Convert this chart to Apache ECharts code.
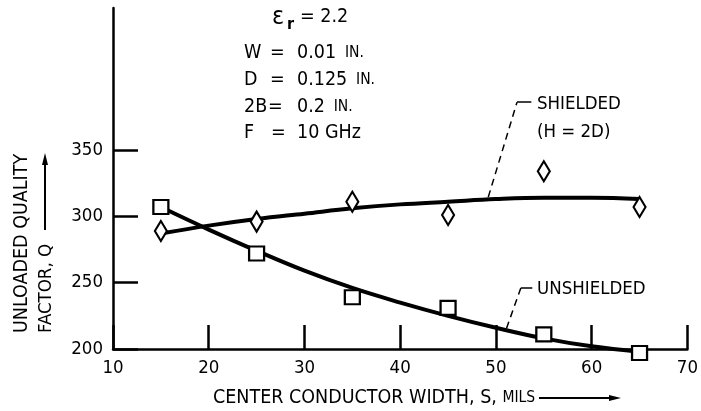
<!DOCTYPE html>
<html><head><meta charset="utf-8">
<script src="https://cdn.jsdelivr.net/npm/echarts@6/dist/echarts.min.js"></script>
<style>html,body{margin:0;padding:0;background:#fff}#c{width:701px;height:411px}</style>
</head><body><div id="c"></div>
<script>
// ---- data ----
const xTicks = [10, 20, 30, 40, 50, 60, 70];
const yTicks = [200, 250, 300, 350];
const markerX = [15, 25, 35, 45, 55, 65];
const unshieldedQ = [307, 272, 239, 231, 211, 197];
const shieldedQ = [289, 296, 311, 301, 334, 307];
const curveX = [15, 20, 25, 30, 35, 40, 45, 50, 55, 60, 65];
const unshieldedFit = [307, 290, 274, 259, 246, 235, 225, 216, 208, 202, 198];
const shieldedFit = [287, 293, 298, 302, 306, 309, 311, 313, 314, 314, 313];
const shieldedLeader = [[49.2, 314.5], [52.2, 386], [53.7, 386]];
const unshieldedLeader = [[51.1, 215.5], [52.6, 246], [53.8, 246]];

const FONT = '"DejaVu Sans Condensed","DejaVu Sans",sans-serif';
const INK = '#000';

const zip = (xs, ys) => xs.map((x, i) => [x, ys[i]]);
function leader(pts) {
  return [
    [{ coord: pts[0] }, { coord: pts[1], lineStyle: { type: [7, 5] } }],
    [{ coord: pts[1], lineStyle: { type: 'solid' } }, { coord: pts[2] }]
  ];
}

const chart = echarts.init(document.getElementById('c'), null, { renderer: 'canvas' });

function txt(x, y, text, size, extra, weight) {
  return Object.assign({
    type: 'text', x: x, y: y, silent: true,
    style: { text: text, fill: INK, font: (weight || 'normal') + ' ' + size + 'px ' + FONT, textAlign: 'left', textVerticalAlign: 'middle' }
  }, extra || {});
}
function paramLine(y, key, eqX, val, unit) {
  const els = [txt(244, y, key, 19.5), txt(eqX, y, '=', 19.5)];
  els.push({
    type: 'text', x: 297, y: y, silent: true,
    style: {
      text: '{v|' + val + '}' + (unit ? '{u|  ' + unit + '}' : ''),
      textVerticalAlign: 'middle',
      rich: { v: { fontSize: 19.5, fontFamily: FONT, fill: INK }, u: { fontSize: 15.5, fontFamily: FONT, fill: INK } }
    }
  });
  return els;
}

const graphic = [].concat(
  [txt(272, 17, 'ε', 25), txt(287, 25, 'r', 16, null, 'bold'), txt(300, 17, '= 2.2', 19.5)],
  paramLine(53, 'W', 270, '0.01', 'IN.'),
  paramLine(80, 'D', 270, '0.125', 'IN.'),
  paramLine(107, '2B', 268, '0.2', 'IN.'),
  paramLine(133, 'F', 271, '10 GHz', ''),
  [
    txt(537, 104, 'SHIELDED', 18.5),
    txt(537, 132, '(H = 2D)', 18.5),
    txt(537, 289, 'UNSHIELDED', 18.5),
    // y axis title
    txt(22, 333, 'UNLOADED QUALITY', 19.5, { rotation: Math.PI / 2 }),
    txt(46, 333, 'FACTOR, Q', 18.5, { rotation: Math.PI / 2 }),
    { type: 'line', silent: true, shape: { x1: 45, y1: 230, x2: 45, y2: 162 }, style: { stroke: INK, lineWidth: 2 } },
    { type: 'polygon', silent: true, shape: { points: [[45, 153], [42, 165], [48, 165]] }, style: { fill: INK } },
    // x axis title
    {
      type: 'text', x: 213, y: 398, silent: true,
      style: {
        text: '{a|CENTER CONDUCTOR WIDTH, S, }{b|MILS}', textVerticalAlign: 'middle',
        rich: { a: { fontSize: 19.5, fontFamily: FONT, fill: INK }, b: { fontSize: 15.5, fontFamily: FONT, fill: INK } }
      }
    },
    { type: 'line', silent: true, shape: { x1: 539, y1: 398, x2: 612, y2: 398 }, style: { stroke: INK, lineWidth: 2 } },
    { type: 'polygon', silent: true, shape: { points: [[621, 398], [609, 395], [609, 401]] }, style: { fill: INK } }
  ]
);

chart.setOption({
  animation: false,
  backgroundColor: '#fff',
  grid: { left: 113, right: 12, top: 8, bottom: 62, containLabel: false },
  xAxis: {
    type: 'value', min: 10, max: 70, interval: 10,
    axisLine: { show: true, lineStyle: { color: INK, width: 2.5 } },
    axisTick: { show: true, inside: true, length: 24, lineStyle: { color: INK, width: 2.5 } },
    axisLabel: { color: INK, fontSize: 18.5, fontFamily: FONT, margin: 10, formatter: v => xTicks.includes(v) ? String(v) : '' },
    splitLine: { show: false }
  },
  yAxis: {
    type: 'value', min: 200, max: 457, interval: 50,
    axisLine: { show: true, lineStyle: { color: INK, width: 2.5 } },
    axisTick: { show: true, inside: true, length: 25, customValues: yTicks, lineStyle: { color: INK, width: 2.5 } },
    axisLabel: { color: INK, fontSize: 18.5, fontFamily: FONT, margin: 10, customValues: yTicks },
    splitLine: { show: false }
  },
  series: [
    {
      type: 'line', name: 'shielded fit', data: zip(curveX, shieldedFit), smooth: 0.4, clip: false,
      showSymbol: false, symbol: 'none', lineStyle: { color: '#000', width: 4 }, z: 2,
      markLine: { silent: true, symbol: 'none', label: { show: false }, lineStyle: { color: '#000', width: 1.5 }, data: leader(shieldedLeader) }
    },
    {
      type: 'line', name: 'unshielded fit', data: zip(curveX, unshieldedFit), smooth: 0.4, clip: false,
      showSymbol: false, symbol: 'none', lineStyle: { color: '#000', width: 4 }, z: 2,
      markLine: { silent: true, symbol: 'none', label: { show: false }, lineStyle: { color: '#000', width: 1.5 }, data: leader(unshieldedLeader) }
    },
    {
      type: 'scatter', name: 'shielded', data: zip(markerX, shieldedQ), symbol: 'diamond', symbolSize: [12, 20], clip: false,
      itemStyle: { color: '#fff', borderColor: '#000', borderWidth: 2.2, opacity: 1 }, z: 3
    },
    {
      type: 'scatter', name: 'unshielded', data: zip(markerX, unshieldedQ), symbol: 'rect', symbolSize: [15, 14], clip: false,
      itemStyle: { color: '#fff', borderColor: '#000', borderWidth: 2.2, opacity: 1 }, z: 3
    }
  ],
  graphic: graphic
});
</script></body></html>
